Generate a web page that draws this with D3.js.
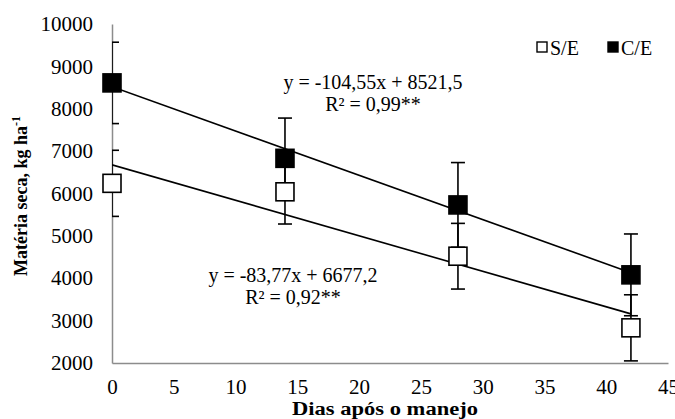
<!DOCTYPE html>
<html>
<head>
<meta charset="utf-8">
<script src="https://cdn.jsdelivr.net/npm/d3@7"></script>
<style>
  body { margin: 0; background: #fff; }
  svg, svg text { font-family: 'Liberation Serif', 'Times New Roman', Times, serif; }
</style>
</head>
<body>
<svg class="chart-svg" width="675" height="419"></svg>
<script>
// days after management
const days = [0, 14, 28, 42];
// dry matter, kg/ha, and error bars
const semEsp = [6240, 6040, 4520, 2830];
const semEspErr = [780, 760, 775, 780];
const comEsp = [8610, 6830, 5730, 4080];
const comEspErr = [960, 950, 1000, 965];
// fitted lines (slope, intercept)
const fitSem = [-83.77, 6677.2];
const fitCom = [-104.55, 8521.5];
const xTicks = [0, 5, 10, 15, 20, 25, 30, 35, 40, 45];
const yTicks = [2000, 3000, 4000, 5000, 6000, 7000, 8000, 9000, 10000];

const svg = d3.select(".chart-svg");
const m = { left: 112, right: 7, top: 24, bottom: 56 };
const W = 675, H = 419;

const x = d3.scaleLinear().domain([0, 45]).range([m.left, W - m.right]);
const y = d3.scaleLinear().domain([2000, 10000]).range([H - m.bottom, m.top]);

svg.append("defs").append("clipPath").attr("id", "plot")
    .append("rect")
    .attr("x", x(0)).attr("y", y(10000) - 1)
    .attr("width", x(45) - x(0)).attr("height", y(2000) - y(10000) + 2);

// axes
const yAxis = svg.append("g")
    .attr("transform", `translate(${x(0)},0)`)
    .call(d3.axisLeft(y).tickValues(yTicks).tickFormat(d3.format("d")).tickSize(0).tickPadding(19));
const xAxis = svg.append("g")
    .attr("transform", `translate(0,${y(2000)})`)
    .call(d3.axisBottom(x).tickValues(xTicks).tickFormat(d3.format("d")).tickSize(0).tickPadding(16));
[xAxis, yAxis].forEach(a => {
    a.attr("font-family", null).attr("font-size", 21);
    a.select(".domain").attr("stroke", "#8c8c8c").attr("stroke-width", 1.5);
    a.selectAll("text").attr("fill", "#000");
});

const plot = svg.append("g").attr("clip-path", "url(#plot)");

// regression lines
[fitSem, fitCom].forEach(f => {
    plot.append("line")
        .attr("x1", x(0)).attr("y1", y(f[1]))
        .attr("x2", x(42)).attr("y2", y(f[0] * 42 + f[1]))
        .attr("stroke", "#000").attr("stroke-width", 1.6);
});

const marks = svg.append("g");
function series(vals, errs, fill) {
    const g = plot.append("g");
    const pts = days.map((d, i) => ({ d, v: vals[i], e: errs[i] }));
    g.selectAll(".bar").data(pts).join("line")
        .attr("x1", p => x(p.d)).attr("x2", p => x(p.d))
        .attr("y1", p => y(p.v + p.e)).attr("y2", p => y(p.v - p.e))
        .attr("stroke", "#000").attr("stroke-width", 1.6);
    [1, -1].forEach(s => {
        g.selectAll(".cap" + s).data(pts).join("line")
            .attr("x1", p => x(p.d) - 7).attr("x2", p => x(p.d) + 7)
            .attr("y1", p => y(p.v + s * p.e)).attr("y2", p => y(p.v + s * p.e))
            .attr("stroke", "#000").attr("stroke-width", 1.6);
    });
    marks.append("g").selectAll("rect").data(pts).join("rect")
        .attr("x", p => x(p.d) - 9).attr("y", p => y(p.v) - 9)
        .attr("width", 18).attr("height", 18)
        .attr("fill", fill).attr("stroke", "#000").attr("stroke-width", 1.6);
}
series(semEsp, semEspErr, "#fff");
series(comEsp, comEspErr, "#000");
marks.raise();

// equations
function eq(tx, ty, lines) {
    lines.forEach((l, i) => svg.append("text")
        .attr("font-size", 20).attr("text-anchor", "middle")
        .attr("x", tx).attr("y", ty + i * 22).text(l));
}
eq(373, 89, ["y = -104,55x + 8521,5", "R² = 0,99**"]);
eq(293, 282, ["y = -83,77x + 6677,2", "R² = 0,92**"]);

// legend
const leg = svg.append("g").attr("font-size", 20);
[["S/E", "#fff", 537], ["C/E", "#000", 608]].forEach(([lab, fill, lx]) => {
    leg.append("rect").attr("x", lx).attr("y", 42).attr("width", 10).attr("height", 10)
        .attr("fill", fill).attr("stroke", "#000").attr("stroke-width", 1.4);
    leg.append("text").attr("x", lx + 13).attr("y", 55).text(lab);
});

// axis titles
svg.append("text")
    .attr("x", 385).attr("y", 415)
    .attr("text-anchor", "middle").attr("font-size", 18).attr("font-weight", "bold")
    .attr("textLength", 186).attr("lengthAdjust", "spacingAndGlyphs")
    .text("Dias após o manejo");
const yt = svg.append("text")
    .attr("transform", `translate(27,196) rotate(-90)`)
    .attr("text-anchor", "middle").attr("font-size", 18).attr("font-weight", "bold")
    .attr("fill", "#000");
yt.append("tspan").text("Matéria seca, kg ha");
yt.append("tspan").attr("dy", -7).attr("font-size", 12).text("-1");
</script>
</body>
</html>
